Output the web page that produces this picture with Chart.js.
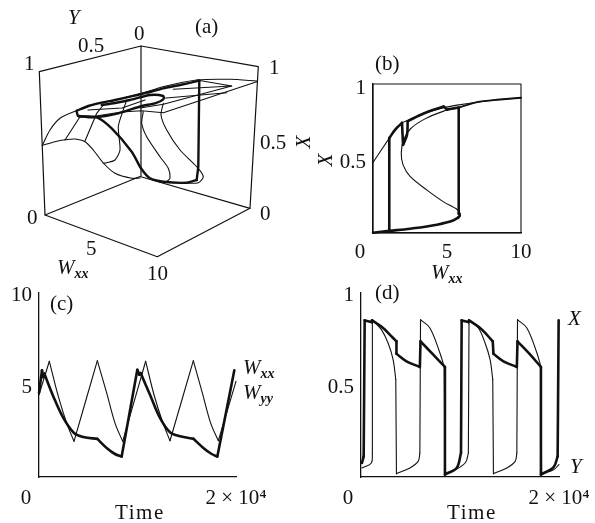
<!DOCTYPE html>
<html><head><meta charset="utf-8">
<style>
html,body{margin:0;padding:0;background:#fff;width:595px;height:523px;overflow:hidden}
canvas{position:absolute}
.t{position:absolute;font:21px "Liberation Serif",serif;color:#111;line-height:22px;height:22px;white-space:nowrap;transform:translateY(-50%)}
.i{font-style:italic}
.w{letter-spacing:1.6px}
.t sub{font-size:14px;font-weight:bold;font-style:italic;vertical-align:-4px;line-height:0}
.r{transform:translate(-50%,-50%) rotate(-90deg)}
</style>
<script src="https://cdn.jsdelivr.net/npm/chart.js@4"></script>
</head><body>
<div id="root"></div>
<script>
// Panel (a): 3D view, values read in the projected view plane [u, v]
const aBox = [[39.3,71.7],[141,46],[258.3,66.7],[250,208.3],[157.3,256.7],[45,215],[39.3,71.7]];
const aBackEdge = [[141,46],[141,176]];
const aFloorBack = [[45,215],[140,176.5],[250,208.3]];
const aEdgeLow = [[42.3,145.3],[55,141.7],[65,139.8],[75,139],[85,141.7],[93.3,150],[103.3,163],[115,173.3],[131.7,178.3],[140,178]];
const aEdgeHigh = [[42.3,145.3],[50,130],[60,118.3],[76.7,110.7],[101.7,102.3],[115,100],[141.7,93.3],[163,86.7],[196.7,80],[230,79.3],[256.7,81]];
const aRim = [[256.7,81.7],[163.3,112.7],[141.7,110.7],[121.7,112],[96,116]];
const aGrid1 = [[231.7,86],[163.3,104.3],[140,108]];
const aGrid2 = [[173.3,89.3],[231.7,86],[196.7,80]];
const aGrid3 = [[163.3,98.3],[226.7,92.7]];
const aGrid4 = [[88,110],[122,108],[145,100]];
const aRib1 = [[80,116.7],[65,140]];
const aRib2 = [[103.3,105],[96.7,113.3],[85,141]];
const aRib3 = [[126.7,100],[122.3,112.7],[118.3,126.7],[120,150],[115,160],[106.7,162.7],[103.3,163.3]];
const aRib4 = [[143.3,111.7],[141.7,123.3],[146.7,136.7],[160,156.7],[168.3,168.3],[170,178.3],[166.7,181.7]];
const aRib5 = [[163.3,103.3],[161,115],[166.7,130],[180,150],[196.7,166.7],[203.3,176.7],[198.3,182.7],[186.7,183.3]];
const aOrbit1 = [[76.7,111.7],[78.3,116],[96.7,117.3],[111.7,128.3],[131.7,151.7],[141,168.3],[150,178.3],[163.3,181.7],[186.7,182.7],[196.7,180]];
const aOrbit2 = [[196.7,180],[198.3,166.7],[199.3,80.7]];
const aOrbit3 = [[199.3,80.7],[180,85],[163.3,88.3],[146.7,92.7],[130,96.7],[115,100],[101.7,102.7],[88.3,106],[76.7,110.7]];
const aOrbit4 = [[78.3,116],[93.3,117.3],[118.3,113.3],[141.7,106],[155,103.3],[163.3,99.3],[163.3,96],[150,95],[130,100],[115,103],[101.7,105]];

// Panel (b): X against Wxx
const bThinW = [0,1.1,1.5,1.96,2.34,3.42,4.77,5.68,7.03,8.38,10];
const bThinX = [.473,.637,.694,.739,.755,.80,.84,.858,.878,.894,.908];
const bFoldW = [5.79,4.77,3.42,2.52,2.07,1.91,2.03,2.52,3.65,4.77,5.68,5.9,5.79];
const bFoldX = [.84,.818,.761,.698,.626,.536,.457,.378,.288,.209,.158,.131,.097];
const bOrbitW = [1.1,1.1,1.5,1.96,2.03,2.3,2.34,3.42,4.77,5,5.79,5.79,5.86,5.45,4.32,2.52,1.1,0];
const bOrbitX = [.01,.637,.694,.739,.592,.66,.75,.802,.849,.829,.842,.131,.115,.086,.056,.029,.014,.002];
const bOrbitBreaks = [0,1,3,4,6,8,9,10,11,17];
const bTailW = [5.79,7.03,8.38,10];
const bTailX = [.842,.878,.894,.908];
const bFrameW = [0,10,10,0,0];
const bFrameX = [0,0,1,1,0];

// Panel (c): weights against time
const cThinT = [0,1049,1963,2809,3553,5922,6870,7716,8494,10829,11675,12521,13299,15668,16582,17428,18206,20000];
const cThinW = [4.47,6.29,4.38,2.93,1.94,6.32,4.57,2.93,1.94,6.29,4.47,3.03,1.97,6.32,4.57,2.93,1.97,5.2];
const cThinBreaks = [0,1,4,5,8,9,12,13,16,17];
const cThickT = [0,305,406,541,1455,2470,3553,4501,5922,6870,7716,8392,9983,10186,10321,11269,12284,13299,14314,15668,16683,17529,18104,19830];
const cThickW = [4.57,5.8,5.43,5.62,4.38,3.21,2.39,2.17,2.07,1.58,1.25,1.11,5.83,5.56,5.65,4.47,3.21,2.43,2.21,2.08,1.58,1.25,1.11,5.8];
const cThickBreaks = [0,1,2,3,8,11,12,13,14,19,22,23];

// Panel (d): activities against time
const dThickT = [101,270,372,1047,1115,2230,2905,3581,3581,4594,5945,6013,7297,8479,8479,9661,10100,10168,10844,10911,12026,12701,13309,13377,14390,15741,15809,17093,18174,18174,19457,19863,19964];
const dThickV = [.076,.112,.851,.842,.851,.81,.774,.737,.67,.629,.598,.737,.665,.598,.013,.049,.13,.851,.842,.851,.81,.774,.737,.67,.629,.598,.737,.665,.598,.013,.054,.112,.851];
const dThickBreaks = [0,1,2,3,4,7,8,10,11,13,14,16,17,18,19,22,23,25,26,28,29,31,32];
const dThinT = [101,1047,1149,1149,2061,2736,3243,3513,3581,4932,5776,5945,6013,6959,7972,8411,8479,9661,10573,10844,10911,11857,12533,13039,13309,13377,14728,15573,15741,15809,16755,17769,18174,18242,19457,20000];
const dThinV = [.049,.076,.13,.855,.801,.728,.638,.529,.018,.049,.085,.13,.855,.81,.674,.598,.022,.043,.08,.13,.851,.81,.728,.638,.529,.018,.049,.085,.13,.855,.81,.674,.598,.018,.04,.067];
const dThinBreaks = [0,2,3,7,8,11,12,15,16,19,20,24,25,28,29,32,33,35];

// Tick labels
const bXTicks = [0,5,10];
const bYTicks = [.5,1];
const cXTicks = [0,20000];
const cYTicks = [5,10];
const dXTicks = [0,20000];
const dYTicks = [.5,1];

Chart.defaults.font.family = '"Liberation Serif",serif';
Chart.defaults.color = '#111';
const INK = '#111', THIN = 1.1, THICK = 2.6;
const zip = (a,b) => a.map((v,i)=>({x:v,y:b[i]}));
const pairs = p => p.map(q=>({x:q[0],y:q[1]}));
const line = (data,w,tension=0) => ({data,borderColor:INK,borderWidth:w,pointRadius:0,tension,fill:false,showLine:true,borderJoinStyle:'round',borderCapStyle:'round',clip:false});
// One smooth stroke per stretch between the curve's corners
const pieces = (xs,ys,breaks,w) => breaks.slice(0,-1).map((b,i)=>line(zip(xs.slice(b,breaks[i+1]+1),ys.slice(b,breaks[i+1]+1)),w,.35));
const root = document.getElementById('root');

function panel(rect, xr, yr, xTicks, yTicks, xFmt, yFmt, pad, datasets){
  const M = {l:50,b:40,t:14,r:42};
  const c = document.createElement('canvas');
  c.width = rect.r-rect.l+M.l+M.r; c.height = rect.b-rect.t+M.t+M.b;
  c.style.left = (rect.l-M.l)+'px'; c.style.top = (rect.t-M.t)+'px';
  root.appendChild(c);
  const fit = (s,prop,val)=>{ s[prop]=val; s.paddingLeft=s.paddingRight=s.paddingTop=s.paddingBottom=0; };
  new Chart(c,{type:'scatter',data:{datasets},options:{
    responsive:false,animation:false,
    layout:{padding:{top:M.t,right:M.r,left:0,bottom:0}},
    plugins:{legend:{display:false},tooltip:{enabled:false}},
    scales:{
      x:{type:'linear',min:xr[0],max:xr[1],
        afterBuildTicks:s=>{s.ticks=xTicks.map(v=>({value:v}));},
        afterFit:s=>fit(s,'height',M.b),
        grid:{display:false,drawTicks:false},border:{display:true,color:INK,width:1.3},
        ticks:{padding:pad.x,maxRotation:0,minRotation:0,autoSkip:false,font:{size:21},callback:xFmt}},
      y:{type:'linear',min:yr[0],max:yr[1],
        afterBuildTicks:s=>{s.ticks=yTicks.map(v=>({value:v}));},
        afterFit:s=>fit(s,'width',M.l),
        grid:{display:false,drawTicks:false},border:{display:true,color:INK,width:1.3},
        ticks:{padding:7,labelOffset:pad.y,autoSkip:false,font:{size:21},callback:yFmt}}
    }}});
}
const shiftedZero = '0\u00a0\u00a0\u00a0\u00a0\u00a0';
const xNum = v => v===0 ? shiftedZero : String(v);
const xTime = v => v===0 ? shiftedZero : '2 \u00d7 10\u2074';
const yNum = v => String(v);

// Panel (a)
(function(){
  const c = document.createElement('canvas');
  c.width = 270; c.height = 280; c.style.left='0'; c.style.top='0';
  root.appendChild(c);
  const thin = [aEdgeLow,aEdgeHigh,aRib3,aRib4,aRib5].map(p=>line(pairs(p),THIN,.25));
  const stiff = [aBox,aBackEdge,aFloorBack].map(p=>line(pairs(p),1.2));
  const grid = [aRim,aGrid1,aGrid2,aGrid3,aGrid4,aRib1,aRib2].map(p=>line(pairs(p),THIN));
  const orbit = [[aOrbit1,.3],[aOrbit2,0],[aOrbit3,.2],[aOrbit4,.25]].map(([p,t])=>line(pairs(p),THICK-.2,t));
  new Chart(c,{type:'scatter',data:{datasets:[...stiff,...thin,...grid,...orbit]},options:{
    responsive:false,animation:false,layout:{padding:0},
    plugins:{legend:{display:false},tooltip:{enabled:false}},
    scales:{x:{type:'linear',display:false,min:0,max:270},y:{type:'linear',display:false,reverse:true,min:0,max:280}}
  }});
})();

panel({l:373,r:521,t:84,b:233},[0,10],[0,1],bXTicks,bYTicks,xNum,yNum,{x:7,y:4},[
  line(zip(bFrameW,bFrameX),THIN),
  line(zip(bThinW,bThinX),THIN,.2),
  line(zip(bFoldW,bFoldX),THIN,.3),
  line(zip(bTailW,bTailX),1.9,.2),
  ...pieces(bOrbitW,bOrbitX,bOrbitBreaks,THICK)
]);
panel({l:39,r:236,t:293,b:477},[0,20000],[0,10],cXTicks,cYTicks,xTime,yNum,{x:9,y:2},[
  ...pieces(cThinT,cThinW,cThinBreaks,THIN),
  ...pieces(cThickT,cThickW,cThickBreaks,THICK)
]);
panel({l:361,r:559,t:293,b:477},[0,20000],[0,1],dXTicks,dYTicks,xTime,yNum,{x:9,y:2},[
  ...pieces(dThinT,dThinV,dThinBreaks,THIN),
  ...pieces(dThickT,dThickV,dThickBreaks,THICK)
]);

// Text labels: [html, left, centre y]
const WXX = '<span class="i">W</span><sub>xx</sub>', WYY = '<span class="i">W</span><sub>yy</sub>';
const labels = [
 ['<span class="i">Y</span>',68,17],['(a)',195,26],['0',134,33],['0.5',78,45],['1',24,63],
 ['1',269,67],['0.5',260,142],['0',27,217],['0',260,213],['5',86,248],[WXX,57,267],['10',147,273],
 ['(b)',375,63],[WXX,431,272],
 ['(c)',50,303],['<span class="w">Time</span>',115,512],[WXX,243,367],[WYY,243,392],
 ['(d)',375,292],['<span class="i">X</span>',568,318],['<span class="i">Y</span>',570,466],['<span class="w">Time</span>',447,512]
];
labels.forEach(([h,x,y])=>{const d=document.createElement('div');d.className='t';d.innerHTML=h;d.style.left=x+'px';d.style.top=y+'px';document.body.appendChild(d);});
[[303,142],[325,160]].forEach(([x,y])=>{const d=document.createElement('div');d.className='t r i';d.textContent='X';d.style.left=x+'px';d.style.top=y+'px';document.body.appendChild(d);});
</script>
</body></html>
